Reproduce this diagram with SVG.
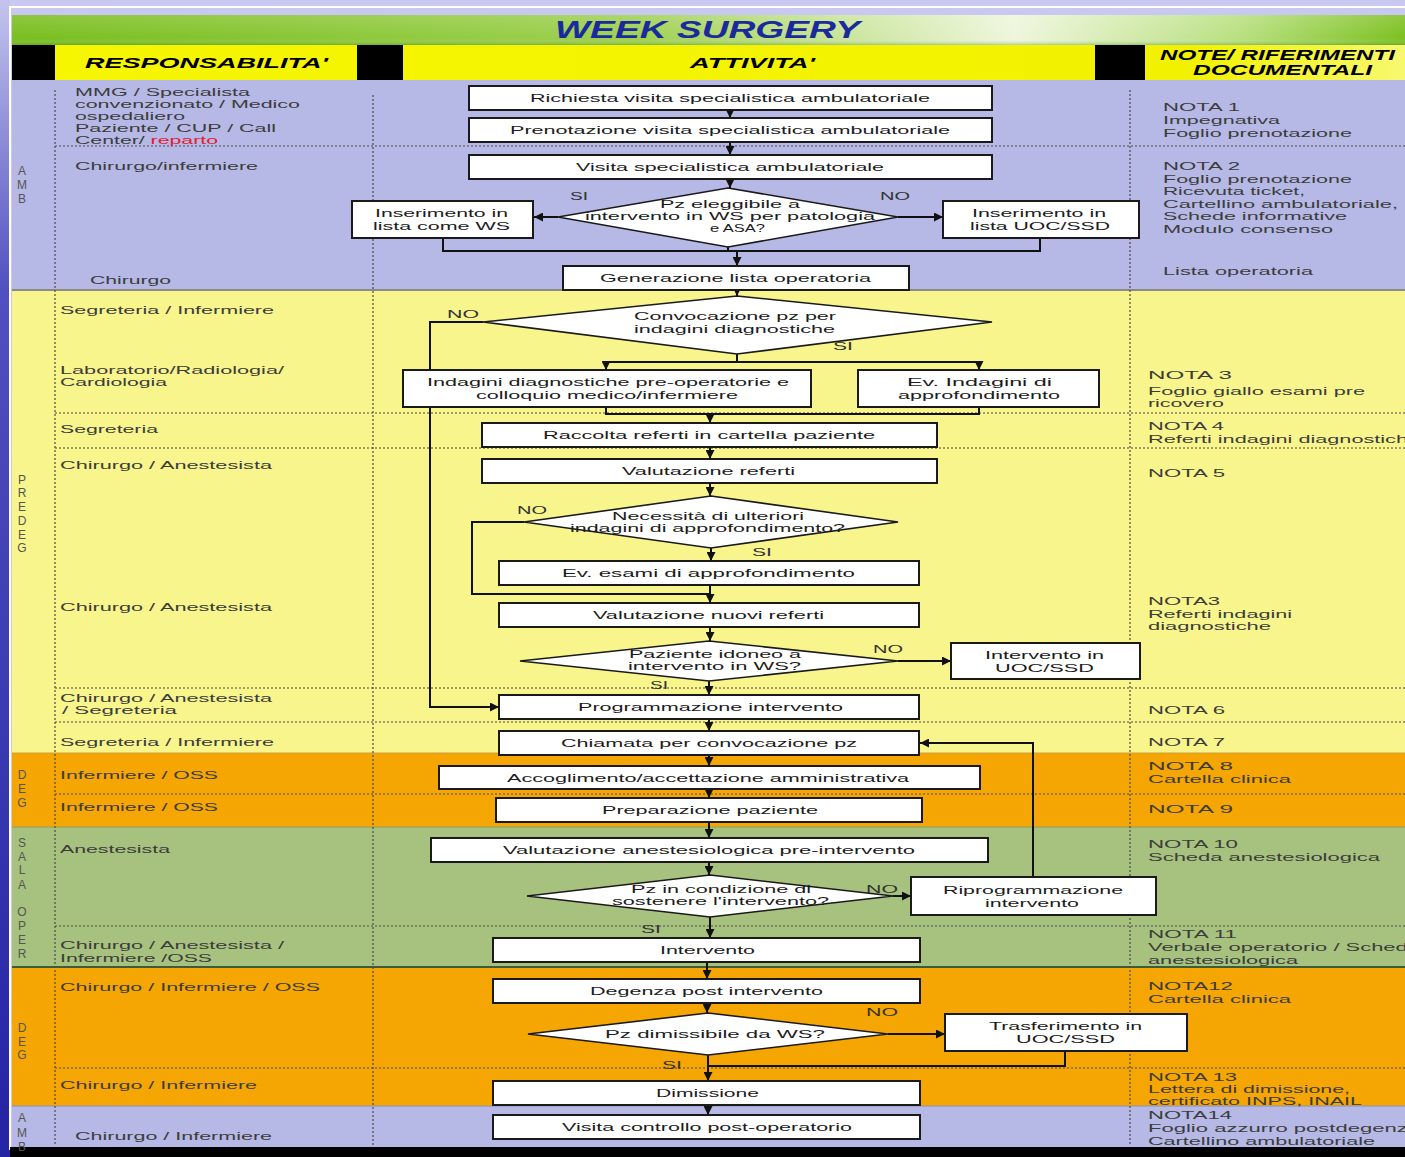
<svg xmlns="http://www.w3.org/2000/svg" width="1405" height="1157" viewBox="0 0 1405 1157">
<defs>
<linearGradient id="gBan" x1="0" y1="0" x2="1" y2="0">
<stop offset="0" stop-color="#78be1e"/><stop offset="0.45" stop-color="#9ed050"/><stop offset="0.72" stop-color="#eef6dc"/><stop offset="0.88" stop-color="#b8e080"/><stop offset="1" stop-color="#7cc020"/>
</linearGradient>
<linearGradient id="gBanV" x1="0" y1="0" x2="0" y2="1">
<stop offset="0" stop-color="#ffffff" stop-opacity="0.15"/><stop offset="0.8" stop-color="#ffffff" stop-opacity="0"/><stop offset="1" stop-color="#3a8010" stop-opacity="0.35"/>
</linearGradient>
<linearGradient id="gLeft" x1="0" y1="0" x2="0" y2="1">
<stop offset="0" stop-color="#c4c4ee"/><stop offset="0.25" stop-color="#5050c0"/><stop offset="1" stop-color="#2424a4"/>
</linearGradient>
<linearGradient id="gYel" x1="0" y1="0" x2="1" y2="0">
<stop offset="0" stop-color="#f6f600"/><stop offset="0.85" stop-color="#f2f200"/><stop offset="1" stop-color="#f8f870"/>
</linearGradient>
<marker id="ah" viewBox="0 0 10 10" refX="10" refY="5" markerWidth="9" markerHeight="9" markerUnits="userSpaceOnUse" orient="auto">
<path d="M0,0 L10,5 L0,10 z" fill="#111"/>
</marker>
<style>
.t{font-family:"Liberation Sans",Arial,sans-serif;font-size:11px;fill:#1c1c1c}
.r{font-family:"Liberation Sans",Arial,sans-serif;font-size:11px;fill:#3c3c3c}
.n{font-family:"Liberation Sans",Arial,sans-serif;font-size:11px;fill:#3c3c3c}
.s{font-size:10.5px}
.lt{font-family:"Liberation Sans",Arial,sans-serif;font-size:12px;fill:#555;text-anchor:middle}
.yn{font-family:"Liberation Sans",Arial,sans-serif;font-size:11px;fill:#333}
.h{font-family:"Liberation Sans",Arial,sans-serif;font-weight:bold;font-style:italic;font-size:15px;fill:#000}
.box{fill:#fff;stroke:#1a1a1a;stroke-width:2}
.dia{fill:#fff;stroke:#1a1a1a;stroke-width:1.6}
.ln{fill:none;stroke:#111;stroke-width:2}
.ar{fill:none;stroke:#111;stroke-width:2;marker-end:url(#ah)}
.dash{stroke:#4a4a4a;stroke-width:1.2;stroke-dasharray:2 2;fill:none}
</style>
</defs>

<!-- background -->
<rect x="0" y="0" width="1405" height="1157" fill="#c8c8f0"/>
<rect x="0" y="0" width="10" height="1157" fill="url(#gLeft)"/>
<line x1="9" y1="7" x2="1405" y2="7" stroke="#fff" stroke-width="2"/>
<line x1="10" y1="7" x2="10" y2="1150" stroke="#fff" stroke-width="2"/>

<!-- title banner -->
<rect x="12" y="15" width="1393" height="30" fill="url(#gBan)"/>
<rect x="12" y="15" width="1393" height="30" fill="url(#gBanV)"/>
<text x="555" y="38" textLength="305" lengthAdjust="spacingAndGlyphs" style="font-family:'Liberation Sans',Arial,sans-serif;font-weight:bold;font-style:italic;font-size:24px;fill:#1a2a9c">WEEK SURGERY</text>

<!-- header row -->
<rect x="12" y="45" width="1393" height="35" fill="url(#gYel)"/>
<rect x="12" y="45" width="43" height="35" fill="#000"/>
<rect x="357" y="45" width="46" height="35" fill="#000"/>
<rect x="1095" y="45" width="50" height="35" fill="#000"/>
<text class="h" x="85" y="68" textLength="243" lengthAdjust="spacingAndGlyphs">RESPONSABILITA'</text>
<text class="h" x="690" y="68" textLength="125" lengthAdjust="spacingAndGlyphs">ATTIVITA'</text>
<text class="h" x="1160" y="60" textLength="235" lengthAdjust="spacingAndGlyphs">NOTE/ RIFERIMENTI</text>
<text class="h" x="1193" y="75" textLength="179" lengthAdjust="spacingAndGlyphs">DOCUMENTALI</text>

<!-- bands -->
<rect x="12" y="80" width="1393" height="210" fill="#b6b9e6"/>
<rect x="12" y="290" width="1393" height="463" fill="#f7f58c"/>
<rect x="12" y="753" width="1393" height="74" fill="#f5a602"/>
<rect x="12" y="827" width="1393" height="140" fill="#a7c27f"/>
<rect x="12" y="967" width="1393" height="139" fill="#f5a602"/>
<rect x="12" y="1106" width="1393" height="41" fill="#b6b9e6"/>
<line x1="12" y1="290" x2="1405" y2="290" stroke="#8a8a8a" stroke-width="2"/>
<line x1="12" y1="753" x2="1405" y2="753" stroke="#c8a040" stroke-width="1"/>
<line x1="12" y1="827" x2="1405" y2="827" stroke="#8aa060" stroke-width="1"/>
<line x1="12" y1="967" x2="1405" y2="967" stroke="#3c5c3c" stroke-width="2"/>
<line x1="12" y1="1106" x2="1405" y2="1106" stroke="#9090b0" stroke-width="1"/>
<rect x="10" y="1147" width="1395" height="10" fill="#000"/>

<!-- grid dashed lines -->
<g id="grid">
<line class="dash" x1="55" y1="90" x2="55" y2="1145"/>
<line class="dash" x1="373" y1="95" x2="373" y2="1145"/>
<line class="dash" x1="1130" y1="90" x2="1130" y2="1145"/>
<line class="dash" x1="55" y1="146" x2="1405" y2="146"/>
<line class="dash" x1="55" y1="413" x2="1405" y2="413"/>
<line class="dash" x1="55" y1="448" x2="1405" y2="448"/>
<line class="dash" x1="55" y1="688" x2="1405" y2="688"/>
<line class="dash" x1="55" y1="722" x2="1405" y2="722"/>
<line class="dash" x1="55" y1="794" x2="1405" y2="794"/>
<line class="dash" x1="55" y1="926" x2="1405" y2="926"/>
<line class="dash" x1="55" y1="1068" x2="1405" y2="1068"/>
</g>

<!-- band letters -->
<g id="band-letters">
<text class="lt" x="22" y="175">A</text><text class="lt" x="22" y="189">M</text><text class="lt" x="22" y="203">B</text>
<text class="lt" x="22" y="484">P</text><text class="lt" x="22" y="497">R</text><text class="lt" x="22" y="511">E</text><text class="lt" x="22" y="525">D</text><text class="lt" x="22" y="539">E</text><text class="lt" x="22" y="552">G</text>
<text class="lt" x="22" y="779">D</text><text class="lt" x="22" y="793">E</text><text class="lt" x="22" y="807">G</text>
<text class="lt" x="22" y="847">S</text><text class="lt" x="22" y="861">A</text><text class="lt" x="22" y="874">L</text><text class="lt" x="22" y="889">A</text>
<text class="lt" x="22" y="916">O</text><text class="lt" x="22" y="930">P</text><text class="lt" x="22" y="944">E</text><text class="lt" x="22" y="958">R</text>
<text class="lt" x="22" y="1032">D</text><text class="lt" x="22" y="1046">E</text><text class="lt" x="22" y="1059">G</text>
<text class="lt" x="22" y="1122">A</text><text class="lt" x="22" y="1137">M</text><text class="lt" x="22" y="1151">B</text>
</g>

<!-- responsibilities -->
<g id="responsabilita">
<text class="r s" x="75" y="96" textLength="175" lengthAdjust="spacingAndGlyphs">MMG / Specialista</text>
<text class="r s" x="75" y="108" textLength="225" lengthAdjust="spacingAndGlyphs">convenzionato / Medico</text>
<text class="r s" x="75" y="120" textLength="110" lengthAdjust="spacingAndGlyphs">ospedaliero</text>
<text class="r s" x="75" y="132" textLength="201" lengthAdjust="spacingAndGlyphs">Paziente / CUP / Call</text>
<text class="r s" x="75" y="144" textLength="143" lengthAdjust="spacingAndGlyphs">Center/ <tspan fill="#e02030">reparto</tspan></text>
<text class="r" x="75" y="170" textLength="183" lengthAdjust="spacingAndGlyphs">Chirurgo/infermiere</text>
<text class="r" x="90" y="284" textLength="81" lengthAdjust="spacingAndGlyphs">Chirurgo</text>
<text class="r" x="60" y="314" textLength="214" lengthAdjust="spacingAndGlyphs">Segreteria / Infermiere</text>
<text class="r s" x="60" y="374" textLength="224" lengthAdjust="spacingAndGlyphs">Laboratorio/Radiologia/</text>
<text class="r s" x="60" y="386" textLength="107" lengthAdjust="spacingAndGlyphs">Cardiologia</text>
<text class="r" x="60" y="433" textLength="98" lengthAdjust="spacingAndGlyphs">Segreteria</text>
<text class="r" x="60" y="469" textLength="212" lengthAdjust="spacingAndGlyphs">Chirurgo / Anestesista</text>
<text class="r" x="60" y="611" textLength="212" lengthAdjust="spacingAndGlyphs">Chirurgo / Anestesista</text>
<text class="r s" x="60" y="702" textLength="212" lengthAdjust="spacingAndGlyphs">Chirurgo / Anestesista</text>
<text class="r s" x="62" y="714" textLength="115" lengthAdjust="spacingAndGlyphs">/ Segreteria</text>
<text class="r" x="60" y="746" textLength="214" lengthAdjust="spacingAndGlyphs">Segreteria / Infermiere</text>
<text class="r" x="60" y="779" textLength="158" lengthAdjust="spacingAndGlyphs">Infermiere / OSS</text>
<text class="r" x="60" y="811" textLength="158" lengthAdjust="spacingAndGlyphs">Infermiere / OSS</text>
<text class="r" x="60" y="853" textLength="110" lengthAdjust="spacingAndGlyphs">Anestesista</text>
<text class="r s" x="60" y="949" textLength="224" lengthAdjust="spacingAndGlyphs">Chirurgo / Anestesista /</text>
<text class="r s" x="60" y="962" textLength="152" lengthAdjust="spacingAndGlyphs">Infermiere /OSS</text>
<text class="r" x="60" y="991" textLength="260" lengthAdjust="spacingAndGlyphs">Chirurgo / Infermiere / OSS</text>
<text class="r" x="60" y="1089" textLength="197" lengthAdjust="spacingAndGlyphs">Chirurgo / Infermiere</text>
<text class="r" x="75" y="1140" textLength="197" lengthAdjust="spacingAndGlyphs">Chirurgo / Infermiere</text>
</g>

<!-- notes -->
<g id="note">
<text class="n s" x="1163" y="111" textLength="77" lengthAdjust="spacingAndGlyphs">NOTA 1</text>
<text class="n s" x="1163" y="124" textLength="117" lengthAdjust="spacingAndGlyphs">Impegnativa</text>
<text class="n s" x="1163" y="137" textLength="189" lengthAdjust="spacingAndGlyphs">Foglio prenotazione</text>
<text class="n s" x="1163" y="170" textLength="77" lengthAdjust="spacingAndGlyphs">NOTA 2</text>
<text class="n s" x="1163" y="183" textLength="189" lengthAdjust="spacingAndGlyphs">Foglio prenotazione</text>
<text class="n s" x="1163" y="195" textLength="142" lengthAdjust="spacingAndGlyphs">Ricevuta ticket,</text>
<text class="n s" x="1163" y="208" textLength="235" lengthAdjust="spacingAndGlyphs">Cartellino ambulatoriale,</text>
<text class="n s" x="1163" y="220" textLength="184" lengthAdjust="spacingAndGlyphs">Schede informative</text>
<text class="n s" x="1163" y="233" textLength="170" lengthAdjust="spacingAndGlyphs">Modulo consenso</text>
<text class="n" x="1163" y="275" textLength="150" lengthAdjust="spacingAndGlyphs">Lista operatoria</text>
<text class="n s" x="1148" y="379" textLength="84" lengthAdjust="spacingAndGlyphs">NOTA  3</text>
<text class="n s" x="1148" y="395" textLength="217" lengthAdjust="spacingAndGlyphs">Foglio giallo esami pre</text>
<text class="n s" x="1148" y="407" textLength="76" lengthAdjust="spacingAndGlyphs">ricovero</text>
<text class="n s" x="1148" y="430" textLength="76" lengthAdjust="spacingAndGlyphs">NOTA 4</text>
<text class="n s" x="1148" y="443" textLength="272" lengthAdjust="spacingAndGlyphs">Referti indagini diagnostiche</text>
<text class="n" x="1148" y="477" textLength="77" lengthAdjust="spacingAndGlyphs">NOTA 5</text>
<text class="n s" x="1148" y="605" textLength="72" lengthAdjust="spacingAndGlyphs">NOTA3</text>
<text class="n s" x="1148" y="618" textLength="144" lengthAdjust="spacingAndGlyphs">Referti indagini</text>
<text class="n s" x="1148" y="630" textLength="123" lengthAdjust="spacingAndGlyphs">diagnostiche</text>
<text class="n" x="1148" y="714" textLength="77" lengthAdjust="spacingAndGlyphs">NOTA 6</text>
<text class="n" x="1148" y="746" textLength="77" lengthAdjust="spacingAndGlyphs">NOTA 7</text>
<text class="n s" x="1148" y="770" textLength="85" lengthAdjust="spacingAndGlyphs">NOTA  8</text>
<text class="n s" x="1148" y="783" textLength="143" lengthAdjust="spacingAndGlyphs">Cartella clinica</text>
<text class="n" x="1148" y="813" textLength="85" lengthAdjust="spacingAndGlyphs">NOTA  9</text>
<text class="n s" x="1148" y="848" textLength="90" lengthAdjust="spacingAndGlyphs">NOTA 10</text>
<text class="n s" x="1148" y="861" textLength="232" lengthAdjust="spacingAndGlyphs">Scheda anestesiologica</text>
<text class="n s" x="1148" y="938" textLength="89" lengthAdjust="spacingAndGlyphs">NOTA 11</text>
<text class="n s" x="1148" y="951" textLength="272" lengthAdjust="spacingAndGlyphs">Verbale operatorio / Scheda</text>
<text class="n s" x="1148" y="964" textLength="150" lengthAdjust="spacingAndGlyphs">anestesiologica</text>
<text class="n s" x="1148" y="990" textLength="85" lengthAdjust="spacingAndGlyphs">NOTA12</text>
<text class="n s" x="1148" y="1003" textLength="143" lengthAdjust="spacingAndGlyphs">Cartella clinica</text>
<text class="n s" x="1148" y="1081" textLength="89" lengthAdjust="spacingAndGlyphs">NOTA 13</text>
<text class="n s" x="1148" y="1093" textLength="202" lengthAdjust="spacingAndGlyphs">Lettera di dimissione,</text>
<text class="n s" x="1148" y="1105" textLength="214" lengthAdjust="spacingAndGlyphs">certificato INPS, INAIL</text>
<text class="n s" x="1148" y="1119" textLength="84" lengthAdjust="spacingAndGlyphs">NOTA14</text>
<text class="n s" x="1148" y="1132" textLength="272" lengthAdjust="spacingAndGlyphs">Foglio azzurro postdegenza</text>
<text class="n s" x="1148" y="1145" textLength="227" lengthAdjust="spacingAndGlyphs">Cartellino ambulatoriale</text>
</g>

<!-- connectors -->
<g id="connectors">
<path class="ar" d="M730,110 V118"/>
<path class="ar" d="M730,142 V155"/>
<path class="ar" d="M730,179 V188"/>
<path class="ar" d="M558,217 H534"/>
<path class="ar" d="M898,217 H943"/>
<path class="ln" d="M443,238 V251 H1040 V238"/>
<path class="ln" d="M728,247 V251"/>
<path class="ar" d="M737,251 V266"/>
<path class="ar" d="M737,290 V296"/>
<path class="ar" d="M483,322 H430 V707 H499"/>
<path class="ln" d="M737,354 V362"/>
<path class="ln" d="M606,362 H979"/>
<path class="ar" d="M606,362 V370"/>
<path class="ar" d="M979,362 V370"/>
<path class="ln" d="M606,407 V414 H979 V407"/>
<path class="ar" d="M710,414 V423"/>
<path class="ar" d="M710,447 V459"/>
<path class="ar" d="M710,483 V496"/>
<path class="ln" d="M524,522 H472 V594 H710"/>
<path class="ar" d="M711,548 V561"/>
<path class="ar" d="M710,585 V603"/>
<path class="ar" d="M710,627 V641"/>
<path class="ar" d="M898,661 H951"/>
<path class="ar" d="M709,681 V695"/>
<path class="ar" d="M709,719 V731"/>
<path class="ar" d="M709,755 V766"/>
<path class="ar" d="M709,789 V798"/>
<path class="ar" d="M709,822 V838"/>
<path class="ar" d="M709,862 V875"/>
<path class="ar" d="M893,896 H911"/>
<path class="ar" d="M1033,877 V743 H920"/>
<path class="ar" d="M710,917 V938"/>
<path class="ar" d="M707,962 V979"/>
<path class="ar" d="M707,1003 V1013"/>
<path class="ar" d="M888,1034 H945"/>
<path class="ln" d="M1065,1051 V1066 H708"/>
<path class="ar" d="M708,1055 V1081"/>
<path class="ar" d="M708,1105 V1115"/>
</g>

<!-- yes/no labels -->
<g id="labels">
<text class="yn" x="570" y="200" textLength="18" lengthAdjust="spacingAndGlyphs">SI</text>
<text class="yn" x="880" y="200" textLength="30" lengthAdjust="spacingAndGlyphs">NO</text>
<text class="yn" x="447" y="318" textLength="32" lengthAdjust="spacingAndGlyphs">NO</text>
<text class="yn" x="833" y="350" textLength="20" lengthAdjust="spacingAndGlyphs">SI</text>
<text class="yn" x="517" y="514" textLength="30" lengthAdjust="spacingAndGlyphs">NO</text>
<text class="yn" x="752" y="556" textLength="20" lengthAdjust="spacingAndGlyphs">SI</text>
<text class="yn" x="873" y="653" textLength="30" lengthAdjust="spacingAndGlyphs">NO</text>
<text class="yn" x="650" y="689" textLength="18" lengthAdjust="spacingAndGlyphs">SI</text>
<text class="yn" x="866" y="893" textLength="32" lengthAdjust="spacingAndGlyphs">NO</text>
<text class="yn" x="641" y="933" textLength="20" lengthAdjust="spacingAndGlyphs">SI</text>
<text class="yn" x="866" y="1016" textLength="32" lengthAdjust="spacingAndGlyphs">NO</text>
<text class="yn" x="662" y="1069" textLength="20" lengthAdjust="spacingAndGlyphs">SI</text>
</g>

<!-- nodes -->
<g id="n01"><rect class="box" x="469" y="86" width="523" height="24"/><text class="t" x="530" y="102" textLength="400" lengthAdjust="spacingAndGlyphs">Richiesta visita specialistica ambulatoriale</text></g>
<g id="n02"><rect class="box" x="469" y="118" width="523" height="24"/><text class="t" x="510" y="134" textLength="440" lengthAdjust="spacingAndGlyphs">Prenotazione visita specialistica ambulatoriale</text></g>
<g id="n03"><rect class="box" x="469" y="155" width="523" height="24"/><text class="t" x="576" y="171" textLength="308" lengthAdjust="spacingAndGlyphs">Visita specialistica ambulatoriale</text></g>
<g id="n04"><polygon class="dia" points="728,188 898,217 728,247 558,217"/>
<text class="t s" x="660" y="208" textLength="140" lengthAdjust="spacingAndGlyphs">Pz eleggibile a</text>
<text class="t s" x="585" y="220" textLength="290" lengthAdjust="spacingAndGlyphs">intervento in WS per patologia</text>
<text class="t s" x="710" y="232" textLength="55" lengthAdjust="spacingAndGlyphs">e ASA?</text></g>
<g id="n05"><rect class="box" x="352" y="201" width="181" height="37"/>
<text class="t" x="375" y="217" textLength="133" lengthAdjust="spacingAndGlyphs">Inserimento in</text>
<text class="t" x="373" y="230" textLength="137" lengthAdjust="spacingAndGlyphs">lista come WS</text></g>
<g id="n06"><rect class="box" x="943" y="201" width="196" height="37"/>
<text class="t" x="972" y="217" textLength="134" lengthAdjust="spacingAndGlyphs">Inserimento in</text>
<text class="t" x="970" y="230" textLength="140" lengthAdjust="spacingAndGlyphs">lista UOC/SSD</text></g>
<g id="n07"><rect class="box" x="563" y="266" width="346" height="24"/><text class="t" x="600" y="282" textLength="271" lengthAdjust="spacingAndGlyphs">Generazione lista operatoria</text></g>
<g id="n08"><polygon class="dia" points="737,296 992,322 737,354 483,322"/>
<text class="t" x="634" y="320" textLength="202" lengthAdjust="spacingAndGlyphs">Convocazione pz per</text>
<text class="t" x="634" y="333" textLength="201" lengthAdjust="spacingAndGlyphs">indagini diagnostiche</text></g>
<g id="n09"><rect class="box" x="403" y="370" width="408" height="37"/>
<text class="t" x="427" y="386" textLength="362" lengthAdjust="spacingAndGlyphs">Indagini diagnostiche pre-operatorie e</text>
<text class="t" x="476" y="399" textLength="262" lengthAdjust="spacingAndGlyphs">colloquio medico/infermiere</text></g>
<g id="n10"><rect class="box" x="858" y="370" width="241" height="37"/>
<text class="t" x="907" y="386" textLength="145" lengthAdjust="spacingAndGlyphs">Ev.  Indagini di</text>
<text class="t" x="898" y="399" textLength="162" lengthAdjust="spacingAndGlyphs">approfondimento</text></g>
<g id="n11"><rect class="box" x="482" y="423" width="455" height="24"/><text class="t" x="543" y="439" textLength="332" lengthAdjust="spacingAndGlyphs">Raccolta referti in cartella paziente</text></g>
<g id="n12"><rect class="box" x="482" y="459" width="455" height="24"/><text class="t" x="622" y="475" textLength="173" lengthAdjust="spacingAndGlyphs">Valutazione referti</text></g>
<g id="n13"><polygon class="dia" points="711,496 898,522 711,548 524,522"/>
<text class="t s" x="612" y="520" textLength="192" lengthAdjust="spacingAndGlyphs">Necessità di ulteriori</text>
<text class="t s" x="570" y="532" textLength="275" lengthAdjust="spacingAndGlyphs">indagini di approfondimento?</text></g>
<g id="n14"><rect class="box" x="499" y="561" width="420" height="24"/><text class="t" x="562" y="577" textLength="293" lengthAdjust="spacingAndGlyphs">Ev.  esami di approfondimento</text></g>
<g id="n15"><rect class="box" x="499" y="603" width="420" height="24"/><text class="t" x="593" y="619" textLength="231" lengthAdjust="spacingAndGlyphs">Valutazione nuovi referti</text></g>
<g id="n16"><polygon class="dia" points="709,641 898,661 709,681 520,661"/>
<text class="t s" x="629" y="658" textLength="172" lengthAdjust="spacingAndGlyphs">Paziente idoneo a</text>
<text class="t s" x="628" y="670" textLength="173" lengthAdjust="spacingAndGlyphs">intervento in WS?</text></g>
<g id="n17"><rect class="box" x="951" y="643" width="189" height="36"/>
<text class="t" x="985" y="659" textLength="119" lengthAdjust="spacingAndGlyphs">Intervento in</text>
<text class="t" x="995" y="672" textLength="99" lengthAdjust="spacingAndGlyphs">UOC/SSD</text></g>
<g id="n18"><rect class="box" x="499" y="695" width="420" height="24"/><text class="t" x="578" y="711" textLength="265" lengthAdjust="spacingAndGlyphs">Programmazione intervento</text></g>
<g id="n19"><rect class="box" x="499" y="731" width="420" height="24"/><text class="t" x="561" y="747" textLength="296" lengthAdjust="spacingAndGlyphs">Chiamata per convocazione pz</text></g>
<g id="n20"><rect class="box" x="439" y="766" width="541" height="23"/><text class="t" x="507" y="782" textLength="402" lengthAdjust="spacingAndGlyphs">Accoglimento/accettazione amministrativa</text></g>
<g id="n21"><rect class="box" x="496" y="798" width="426" height="24"/><text class="t" x="602" y="814" textLength="216" lengthAdjust="spacingAndGlyphs">Preparazione paziente</text></g>
<g id="n22"><rect class="box" x="431" y="838" width="557" height="24"/><text class="t" x="503" y="854" textLength="412" lengthAdjust="spacingAndGlyphs">Valutazione anestesiologica  pre-intervento</text></g>
<g id="n23"><polygon class="dia" points="710,875 893,896 710,917 527,896"/>
<text class="t s" x="631" y="893" textLength="180" lengthAdjust="spacingAndGlyphs">Pz in condizione di</text>
<text class="t s" x="612" y="905" textLength="217" lengthAdjust="spacingAndGlyphs">sostenere l'intervento?</text></g>
<g id="n24"><rect class="box" x="911" y="877" width="245" height="38"/>
<text class="t" x="943" y="894" textLength="180" lengthAdjust="spacingAndGlyphs">Riprogrammazione</text>
<text class="t" x="985" y="907" textLength="94" lengthAdjust="spacingAndGlyphs">intervento</text></g>
<g id="n25"><rect class="box" x="493" y="938" width="427" height="24"/><text class="t" x="660" y="954" textLength="95" lengthAdjust="spacingAndGlyphs">Intervento</text></g>
<g id="n26"><rect class="box" x="493" y="979" width="427" height="24"/><text class="t" x="590" y="995" textLength="233" lengthAdjust="spacingAndGlyphs">Degenza post intervento</text></g>
<g id="n27"><polygon class="dia" points="708,1013 888,1034 708,1055 528,1034"/>
<text class="t" x="605" y="1038" textLength="220" lengthAdjust="spacingAndGlyphs">Pz  dimissibile da WS?</text></g>
<g id="n28"><rect class="box" x="945" y="1014" width="242" height="37"/>
<text class="t" x="989" y="1030" textLength="153" lengthAdjust="spacingAndGlyphs">Trasferimento in</text>
<text class="t" x="1016" y="1043" textLength="99" lengthAdjust="spacingAndGlyphs">UOC/SSD</text></g>
<g id="n29"><rect class="box" x="493" y="1081" width="427" height="24"/><text class="t" x="656" y="1097" textLength="103" lengthAdjust="spacingAndGlyphs">Dimissione</text></g>
<g id="n30"><rect class="box" x="493" y="1115" width="427" height="24"/><text class="t" x="562" y="1131" textLength="290" lengthAdjust="spacingAndGlyphs">Visita controllo post-operatorio</text></g>
</svg>
